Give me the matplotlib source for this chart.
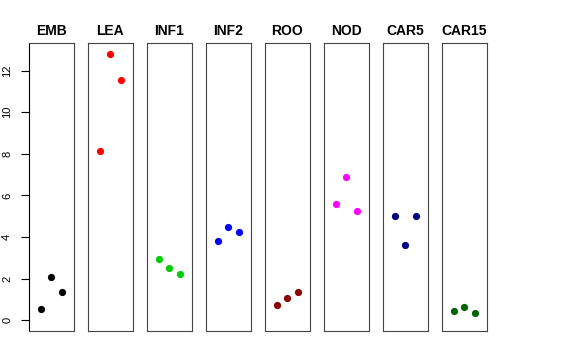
import matplotlib
matplotlib.use('Agg')
import matplotlib.pyplot as plt

plt.rcParams['font.family'] = ['Liberation Sans', 'DejaVu Sans']

# Panel names and colours
groups = ['EMB', 'LEA', 'INF1', 'INF2', 'ROO', 'NOD', 'CAR5', 'CAR15']
colors = ['black', 'red', '#00CD00', 'blue', '#8B0000', 'magenta', '#000080', '#006400']

# Three replicate values per group
emb = [0.54, 2.08, 1.36]
lea = [8.16, 12.80, 11.55]
inf1 = [2.97, 2.52, 2.21]
inf2 = [3.83, 4.47, 4.25]
roo = [0.75, 1.07, 1.35]
nod = [5.61, 6.89, 5.24]
car5 = [5.03, 3.62, 4.99]
car15 = [0.45, 0.63, 0.35]
values = [emb, lea, inf1, inf2, roo, nod, car5, car15]
reps = [1, 2, 3]
yticks = [0, 2, 4, 6, 8, 10, 12]

fig = plt.figure(figsize=(5.76, 3.6), dpi=100)
W, H = 576.0, 360.0

ymax = max(max(v) for v in values)
pad_y = ymax * 0.04
pad_x = 4 * 0.04

for i, (name, col, vals) in enumerate(zip(groups, colors, values)):
    left = 29 + 59 * i
    ax = fig.add_axes([left / W, 29 / H, 44.5 / W, (331 - 43.3) / H])
    ax.scatter(reps, vals, color=col, s=27, linewidths=0, zorder=3)
    ax.set_xlim(-pad_x, 4 + pad_x)
    ax.set_ylim(-pad_y, ymax + pad_y)
    ax.set_xticks([])
    ax.set_title(name, fontsize=10, fontweight='bold', pad=6)
    for s in ax.spines.values():
        s.set_linewidth(0.8)
        s.set_color('#444444')
    if i == 0:
        ax.set_yticks(yticks)
        ax.spines['left'].set_position(('outward', 0))
        ax.spines['left'].set_color('black')
        ax.tick_params(axis='y', length=6, width=0.8, labelleft=False)
        # rotated tick labels, R style
        for t in yticks:
            ax.text(-0.49, t, str(t), transform=ax.get_yaxis_transform(),
                    rotation=90, ha='center', va='center', fontsize=8)
    else:
        ax.set_yticks([])

fig.savefig('out.png', dpi=100)
